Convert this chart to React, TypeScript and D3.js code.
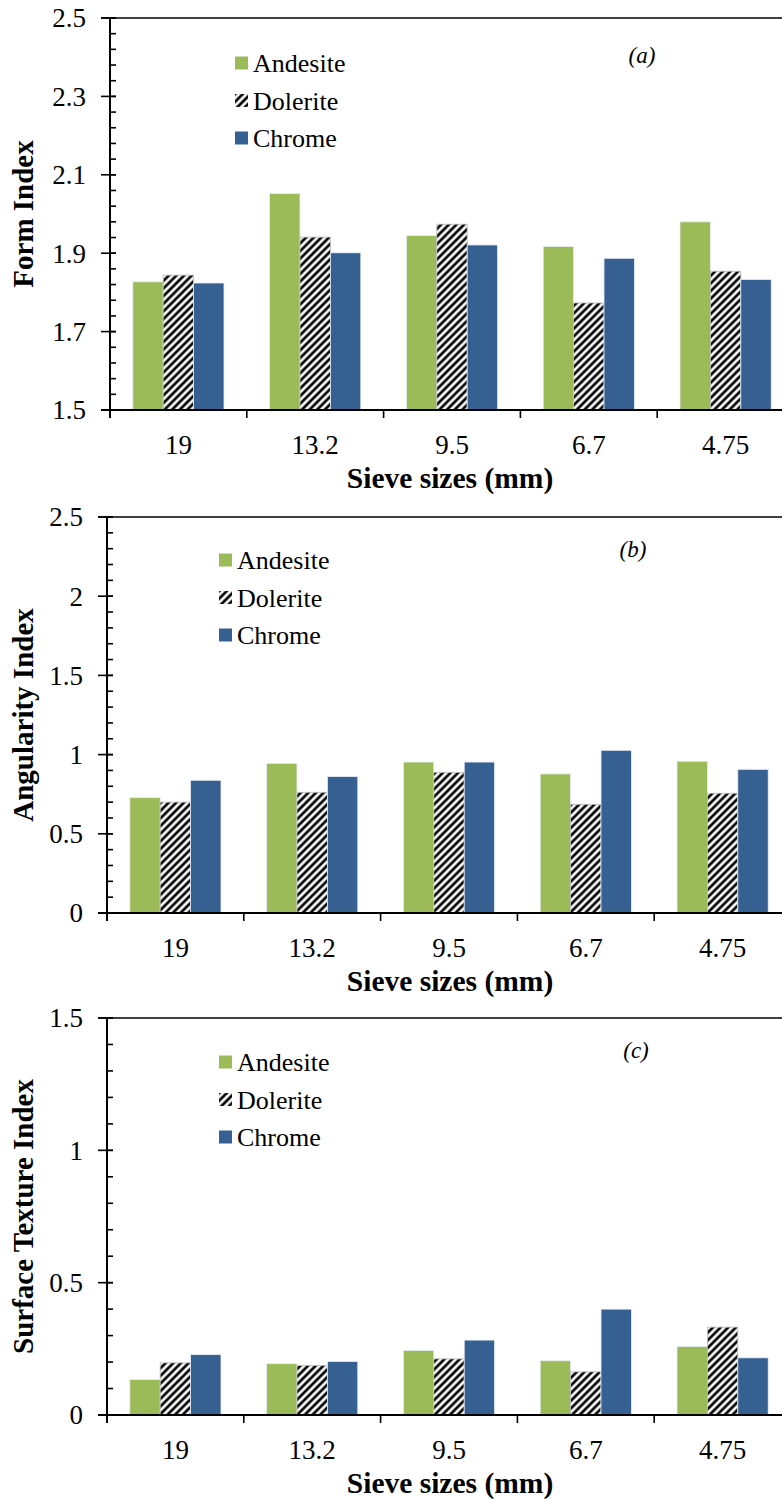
import React from "react";
import * as d3 from "d3";

// sieve sizes (x categories)
const categories = ["19", "13.2", "9.5", "6.7", "4.75"];
const seriesNames = ["Andesite", "Dolerite", "Chrome"];

// (a) Form index
const formAndesite = [1.827, 2.052, 1.945, 1.917, 1.98];
const formDolerite = [1.844, 1.941, 1.974, 1.773, 1.854];
const formChrome = [1.824, 1.901, 1.921, 1.887, 1.833];

// (b) Angularity index
const angAndesite = [0.728, 0.945, 0.953, 0.878, 0.958];
const angDolerite = [0.7, 0.762, 0.888, 0.686, 0.756];
const angChrome = [0.838, 0.861, 0.953, 1.027, 0.907];

// (c) Surface texture index
const texAndesite = [0.134, 0.194, 0.244, 0.205, 0.259];
const texDolerite = [0.197, 0.187, 0.212, 0.163, 0.332];
const texChrome = [0.228, 0.202, 0.283, 0.4, 0.216];

const GREEN = "#9bbb59";
const BLUE = "#376092";
const FONT = "'Liberation Serif', 'Times New Roman', serif";

type PanelProps = {
  label: string;
  yTitle: string;
  series: number[][];
  domain: [number, number];
  majorStep: number;
  minorStep: number;
  fmt: (v: number) => string;
  axisX: number;
  top: number;
  bottom: number;
  legendX: number;
  legendY: number;
  tagX: number;
  tagY: number;
};

const fillFor = (i: number) => (i === 0 ? GREEN : i === 1 ? "url(#hatch)" : BLUE);

const Panel = (p: PanelProps) => {
  const step = 136.8;
  const x = d3
    .scaleBand<string>()
    .domain(categories)
    .range([p.axisX, p.axisX + step * categories.length]);
  // gap width 150% like the excel original
  const xs = d3
    .scaleBand<string>()
    .domain(seriesNames)
    .range([0, x.bandwidth()])
    .paddingInner(0)
    .paddingOuter(0.75);
  const y = d3.scaleLinear().domain(p.domain).range([p.bottom, p.top]);

  const nMajor = Math.round((p.domain[1] - p.domain[0]) / p.majorStep);
  const majors = d3.range(nMajor + 1).map((i) => p.domain[0] + i * p.majorStep);
  const nMinor = Math.round((p.domain[1] - p.domain[0]) / p.minorStep);
  const minors = d3.range(nMinor + 1).map((i) => p.domain[0] + i * p.minorStep);

  const midY = (p.top + p.bottom) / 2;

  return (
    <g>
      {/* bars */}
      {p.series.map((vals, si) =>
        vals.map((v, ci) => (
          <rect
            key={`${si}-${ci}`}
            x={(x(categories[ci]) ?? 0) + (xs(seriesNames[si]) ?? 0)}
            y={y(v)}
            width={xs.bandwidth()}
            height={p.bottom - y(v)}
            fill={fillFor(si)}
            stroke={si === 1 ? "#bbbbbb" : "#e8eef4"}
            strokeWidth={0.8}
          />
        ))
      )}

      {/* top border */}
      <line x1={p.axisX - 9} x2={782} y1={p.top} y2={p.top} stroke="#000" strokeWidth={1.6} />

      {/* y axis */}
      <line x1={p.axisX} x2={p.axisX} y1={p.top} y2={p.bottom + 8} stroke="#000" strokeWidth={2} />
      {minors.map((v, i) => (
        <line key={`mi${i}`} x1={p.axisX} x2={p.axisX + 6} y1={y(v)} y2={y(v)} stroke="#000" strokeWidth={1.6} />
      ))}
      {majors.map((v, i) => (
        <g key={`ma${i}`}>
          <line x1={p.axisX - 9} x2={p.axisX + 6} y1={y(v)} y2={y(v)} stroke="#000" strokeWidth={1.6} />
          <text
            x={p.axisX - 24}
            y={y(v)}
            dy="0.35em"
            textAnchor="end"
            style={{ fontFamily: FONT, fontSize: 27 }}
          >
            {p.fmt(v)}
          </text>
        </g>
      ))}

      {/* x axis */}
      <line x1={p.axisX - 9} x2={782} y1={p.bottom} y2={p.bottom} stroke="#000" strokeWidth={2} />
      {categories.map((c) => (
        <g key={c}>
          <line x1={x(c) ?? 0} x2={x(c) ?? 0} y1={p.bottom} y2={p.bottom + 8} stroke="#000" strokeWidth={1.6} />
          <text
            x={(x(c) ?? 0) + x.bandwidth() / 2}
            y={p.bottom + 35}
            dy="0.35em"
            textAnchor="middle"
            style={{ fontFamily: FONT, fontSize: 27 }}
          >
            {c}
          </text>
        </g>
      ))}
      <text
        x={450}
        y={p.bottom + 68}
        dy="0.35em"
        textAnchor="middle"
        style={{ fontFamily: FONT, fontSize: 29.5, fontWeight: "bold" }}
      >
        Sieve sizes (mm)
      </text>

      {/* y title */}
      <text
        transform={`translate(33,${midY}) rotate(-90)`}
        textAnchor="middle"
        style={{ fontFamily: FONT, fontSize: 29, fontWeight: "bold" }}
      >
        {p.yTitle}
      </text>

      {/* legend */}
      {seriesNames.map((s, i) => (
        <g key={s} transform={`translate(${p.legendX},${p.legendY + i * 37.5})`}>
          <rect x={0} y={-6.5} width={13} height={13} fill={fillFor(i)} />
          <text x={18} y={0} dy="0.35em" style={{ fontFamily: FONT, fontSize: 26 }}>
            {s}
          </text>
        </g>
      ))}

      {/* panel tag */}
      <text
        x={p.tagX}
        y={p.tagY}
        dy="0.35em"
        textAnchor="middle"
        style={{ fontFamily: FONT, fontSize: 23, fontStyle: "italic" }}
      >
        {p.label}
      </text>
    </g>
  );
};

const App = () => {
  const f1 = d3.format(".1f");
  const fb = (v: number) => String(Math.round(v * 10) / 10);
  return (
    <svg
      width={782}
      height={1499}
      style={{ position: "absolute", left: 0, top: 0, background: "#fff" }}
    >
      <defs>
        <linearGradient id="stripe" x1="0" x2="1" y1="0" y2="0">
          <stop offset="0" stopColor="#000" />
          <stop offset="0.35" stopColor="#000" />
          <stop offset="0.5" stopColor="#fff" />
          <stop offset="0.85" stopColor="#fff" />
          <stop offset="1" stopColor="#000" />
        </linearGradient>
        <pattern
          id="hatch"
          patternUnits="userSpaceOnUse"
          width={5.4}
          height={5.4}
          patternTransform="rotate(45)"
        >
          <rect x={0} y={0} width={5.4} height={5.4} fill="url(#stripe)" />
        </pattern>
      </defs>
      <rect width={782} height={1499} fill="#fff" />
      <Panel
        label="(a)"
        yTitle="Form Index"
        series={[formAndesite, formDolerite, formChrome]}
        domain={[1.5, 2.5]}
        majorStep={0.2}
        minorStep={0.04}
        fmt={f1}
        axisX={110}
        top={18}
        bottom={410}
        legendX={235}
        legendY={63}
        tagX={642}
        tagY={55}
      />
      <Panel
        label="(b)"
        yTitle="Angularity Index"
        series={[angAndesite, angDolerite, angChrome]}
        domain={[0, 2.5]}
        majorStep={0.5}
        minorStep={0.1}
        fmt={fb}
        axisX={107}
        top={517}
        bottom={913}
        legendX={219}
        legendY={560}
        tagX={633}
        tagY={549}
      />
      <Panel
        label="(c)"
        yTitle="Surface Texture Index"
        series={[texAndesite, texDolerite, texChrome]}
        domain={[0, 1.5]}
        majorStep={0.5}
        minorStep={0.1}
        fmt={fb}
        axisX={107}
        top={1018}
        bottom={1415}
        legendX={219}
        legendY={1062}
        tagX={636}
        tagY={1050}
      />
    </svg>
  );
};

export default App;
